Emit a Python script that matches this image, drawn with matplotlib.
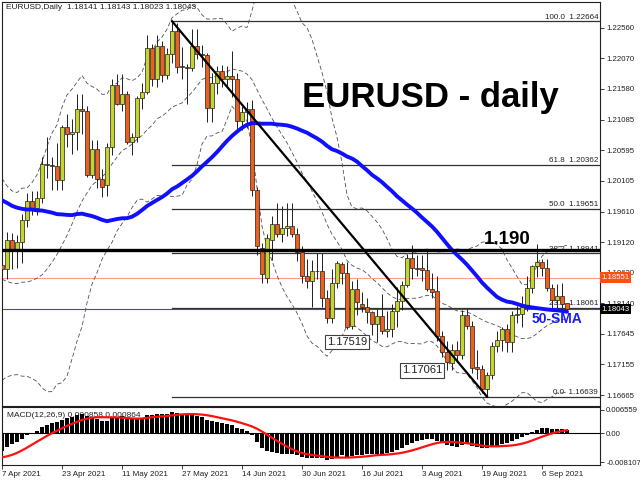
import numpy as np
import pandas as pd
import matplotlib
matplotlib.use('Agg')
import matplotlib.pyplot as plt

plt.rcParams['font.family'] = ['Liberation Sans', 'DejaVu Sans']
plt.rcParams['axes.unicode_minus'] = False

# daily closes before 7 Apr 2021, only used to warm up the indicators
pre_close = [1.2113, 1.2124, 1.2136,
             1.2061, 1.2040, 1.2036, 1.1963, 1.2049, 1.2050, 1.2119, 1.2119, 1.2133, 1.2120,
             1.2126, 1.2104, 1.2040, 1.2091, 1.2119, 1.2155, 1.2151, 1.2165, 1.2175, 1.2075,
             1.2048, 1.2089, 1.2063, 1.1964, 1.1917, 1.1847, 1.1899, 1.1928, 1.1985, 1.1951,
             1.1929, 1.1902, 1.1977, 1.1914, 1.1905, 1.1935, 1.1850, 1.1814, 1.1763, 1.1794,
             1.1778, 1.1720, 1.1730, 1.1779, 1.1763, 1.1813, 1.1875]

# visible bars, 7 Apr 2021 .. 13 Sep 2021
opens = [1.1875, 1.1868, 1.1915, 1.1898, 1.1912, 1.1947, 1.1978, 1.1966, 1.1983, 1.2037,
         1.2036, 1.2034, 1.2012, 1.2097, 1.2086, 1.2088, 1.2125, 1.2122, 1.2020, 1.2062,
         1.2013, 1.2004, 1.2065, 1.2164, 1.2133, 1.2150, 1.2073, 1.2081, 1.2143, 1.2152,
         1.2223, 1.2174, 1.2226, 1.2180, 1.2213, 1.2250, 1.2194, 1.2193, 1.2192, 1.2227,
         1.2213, 1.2212, 1.2127, 1.2167, 1.2186, 1.2173, 1.2178, 1.2174, 1.2107, 1.2120,
         1.2125, 1.1995, 1.1903, 1.1855, 1.1915, 1.1941, 1.1925, 1.1934, 1.1937, 1.1925,
         1.1896, 1.1858, 1.1849, 1.1865, 1.1866, 1.1823, 1.1790, 1.1846, 1.1877, 1.1862,
         1.1778, 1.1836, 1.1813, 1.1808, 1.1800, 1.1780, 1.1794, 1.1770, 1.1772, 1.1801,
         1.1818, 1.1843, 1.1887, 1.1870, 1.1871, 1.1867, 1.1836, 1.1833, 1.1761, 1.1736,
         1.1718, 1.1738, 1.1730, 1.1795, 1.1778, 1.1711, 1.1708, 1.1676, 1.1698, 1.1745,
         1.1755, 1.1772, 1.1751, 1.1795, 1.1797, 1.1808, 1.1838, 1.1874, 1.1880, 1.1871,
         1.1839, 1.1819, 1.1826, 1.18141]
highs = [1.1913, 1.1928, 1.1926, 1.1924, 1.1957, 1.1990, 1.1994, 1.1994, 1.2048, 1.2080,
         1.2048, 1.2071, 1.2100, 1.2117, 1.2109, 1.2150, 1.2149, 1.2131, 1.2076, 1.2076,
         1.2030, 1.2071, 1.2173, 1.2181, 1.2182, 1.2155, 1.2087, 1.2147, 1.2167, 1.2245,
         1.2230, 1.2245, 1.2234, 1.2223, 1.22664, 1.2263, 1.2225, 1.2198, 1.2254, 1.2254,
         1.2228, 1.2216, 1.2184, 1.2195, 1.2196, 1.2194, 1.2218, 1.2184, 1.2131, 1.2137,
         1.2140, 1.2000, 1.1910, 1.1925, 1.1954, 1.1974, 1.1970, 1.1975, 1.1975, 1.1935,
         1.1905, 1.1885, 1.1883, 1.1895, 1.1895, 1.1835, 1.1868, 1.1881, 1.1880, 1.1880,
         1.1850, 1.1853, 1.1832, 1.1823, 1.1802, 1.1805, 1.1829, 1.1802, 1.1812, 1.1840,
         1.1850, 1.1893, 1.1908, 1.1892, 1.1892, 1.1900, 1.1862, 1.1857, 1.1770, 1.1753,
         1.1748, 1.1753, 1.1803, 1.1805, 1.1786, 1.1739, 1.1714, 1.1703, 1.1752, 1.1770,
         1.1776, 1.1780, 1.1802, 1.1810, 1.1826, 1.1857, 1.1875, 1.1909, 1.1884, 1.1884,
         1.1844, 1.1845, 1.1846, 1.18143]
lows = [1.1855, 1.1853, 1.1869, 1.1870, 1.1878, 1.1936, 1.1955, 1.1955, 1.1975, 1.2015,
        1.1995, 1.1996, 1.1995, 1.2065, 1.2054, 1.2059, 1.2086, 1.2017, 1.2014, 1.1998,
        1.1985, 1.1986, 1.2052, 1.2132, 1.2123, 1.2070, 1.2052, 1.2073, 1.2125, 1.2150,
        1.2162, 1.2160, 1.2169, 1.2173, 1.2199, 1.2183, 1.2173, 1.2134, 1.2186, 1.2206,
        1.2193, 1.2104, 1.2104, 1.2150, 1.2160, 1.2162, 1.2144, 1.2093, 1.2092, 1.2095,
        1.1986, 1.1892, 1.1847, 1.1847, 1.1883, 1.1920, 1.1912, 1.1922, 1.1920, 1.1881,
        1.1847, 1.1838, 1.1807, 1.1853, 1.1807, 1.1782, 1.1782, 1.1838, 1.1845, 1.1772,
        1.1772, 1.1795, 1.1800, 1.1782, 1.1763, 1.17519, 1.1764, 1.1760, 1.1760, 1.1775,
        1.1803, 1.1840, 1.1853, 1.1858, 1.1849, 1.1834, 1.1822, 1.1754, 1.1728, 1.1707,
        1.17061, 1.1723, 1.1725, 1.1772, 1.1702, 1.1693, 1.1670, 1.16639, 1.1692, 1.1735,
        1.1737, 1.1736, 1.1735, 1.1782, 1.1775, 1.1802, 1.1830, 1.1856, 1.1857, 1.1834,
        1.1802, 1.1802, 1.1806, 1.18023]
closes = [1.1868, 1.1915, 1.1900, 1.1912, 1.1947, 1.1978, 1.1966, 1.1982, 1.2037, 1.2036,
          1.2034, 1.2012, 1.2097, 1.2086, 1.2088, 1.2125, 1.2122, 1.2020, 1.2062, 1.2013,
          1.2000, 1.2065, 1.2164, 1.2133, 1.2150, 1.2073, 1.2081, 1.2143, 1.2152, 1.2223,
          1.2174, 1.2226, 1.2180, 1.2213, 1.2250, 1.2193, 1.2193, 1.2192, 1.2227, 1.2213,
          1.2212, 1.2127, 1.2167, 1.2186, 1.2173, 1.2178, 1.2174, 1.2107, 1.2120, 1.2125,
          1.1995, 1.1906, 1.1860, 1.1918, 1.1941, 1.1925, 1.1934, 1.1937, 1.1925, 1.1896,
          1.1858, 1.1850, 1.1865, 1.1866, 1.1823, 1.1790, 1.1846, 1.1878, 1.1862, 1.1776,
          1.1837, 1.1815, 1.1808, 1.1800, 1.1780, 1.1794, 1.1770, 1.1772, 1.1801, 1.1818,
          1.1843, 1.1886, 1.1870, 1.1869, 1.1867, 1.1837, 1.1832, 1.1761, 1.1736, 1.1719,
          1.1738, 1.1730, 1.1795, 1.1778, 1.1710, 1.1708, 1.1676, 1.1698, 1.1745, 1.1755,
          1.1772, 1.1751, 1.1795, 1.1797, 1.1808, 1.1838, 1.1874, 1.1880, 1.1871, 1.1839,
          1.1819, 1.1826, 1.1812, 1.18043]

dates = pd.bdate_range('2021-04-07', '2021-09-13')

fib_levels = [100.0, 61.8, 50.0, 38.2, 23.6, 0.0]
fib_prices = [1.22664, 1.20362, 1.19651, 1.18941, 1.18061, 1.16639]
price_ticks = [1.22560, 1.22070, 1.21580, 1.21085, 1.20595, 1.20105, 1.19610,
               1.19120, 1.18630, 1.18140, 1.17645, 1.17155, 1.16665]
macd_ticks = [0.006559, 0.0, -0.008107]
macd_tick_labels = ['0.006559', '0.00', '-0.008107']
level_190 = 1.190
bid_line = 1.18043
ask_line = 1.18551
low_marks = [75, 90]   # bars whose lows get a price label

# indicators
s = pd.Series(pre_close + closes)
n = len(closes)
sma50 = s.rolling(50).mean().values[-n:]
mid = s.rolling(20).mean()
sd = s.rolling(20).std(ddof=0)
bb_up = (mid + 2 * sd).values[-n:]
bb_lo = (mid - 2 * sd).values[-n:]
bb_mid = mid.values[-n:]
macd = (s.ewm(span=12, adjust=False).mean() - s.ewm(span=26, adjust=False).mean())
signal = macd.rolling(9).mean().values[-n:]
macd = macd.values[-n:]

x = np.arange(n)
o = np.array(opens); h = np.array(highs); l = np.array(lows); c = np.array(closes)

fig = plt.figure(figsize=(6.4, 4.8), dpi=100)
ax = fig.add_axes([2/640, 1 - 406/480, 598/640, 404/480])
ax2 = fig.add_axes([2/640, 1 - 465/480, 598/640, 58/480])

for a in (ax, ax2):
    a.set_xlim(0, 119.6)
    for sp in a.spines.values():
        sp.set_color('#202020')
        sp.set_linewidth(0.8)
ax.set_ylim(1.16489, 1.22972)
ax2.set_ylim(-0.00895, 0.0074)

# fibonacci
top = int(np.argmax(h))
for lv, p in zip(fib_levels, fib_prices):
    ax.plot([top, 119.6], [p, p], color='#303030', lw=0.9, zorder=1)
    ax.text(0.997, p + 0.0001, f'{lv:.1f}  {p:.5f}', transform=ax.get_yaxis_transform(),
            ha='right', va='bottom', fontsize=5.8, color='#202020', zorder=1)

ax.axhline(ask_line, color='#ff9c88', lw=0.8, zorder=1)
ax.axhline(bid_line, color='#4a4aa0', lw=0.8, zorder=1)

# bollinger bands
for band in (bb_up, bb_mid, bb_lo):
    ax.plot(x, band, color='#505050', lw=0.6, ls=(0, (5, 3)), zorder=2)

# candles
up = c >= o
col = np.where(up, '#c4d42c', '#ee5f1c')
ax.vlines(x, l, h, color='#202020', lw=0.7, zorder=3)
ax.bar(x, np.maximum(np.abs(c - o), 0.00004), bottom=np.minimum(o, c), width=0.62,
       color=col, edgecolor='#202020', linewidth=0.5, zorder=4)

ax.plot(x, sma50, color='#1010ff', lw=2.8, zorder=5, solid_capstyle='round')

ax.axhline(level_190, color='black', lw=2.4, zorder=6)

bot = int(np.argmin(l))
ax.plot([top, bot], [h[top], l[bot]], color='black', lw=1.6, zorder=6)

# texts
ax.text(0.006, 1 - 2/404, 'EURUSD,Daily  1.18141 1.18143 1.18023 1.18043',
        transform=ax.transAxes, ha='left', va='top', fontsize=6, color='#202020')
ax.text(0.5017, 0.763, 'EURUSD - daily', transform=ax.transAxes, ha='left', va='center',
        fontsize=25, fontweight='bold', color='black', zorder=7)
ax.text(101, 1.1916, '1.190', ha='center', va='center', fontsize=13.5,
        fontweight='bold', color='black', zorder=7)
ax.text(111, 1.17884, '50-SMA', ha='center', va='center', fontsize=10,
        fontweight='bold', color='#1a1aff', zorder=7)
for i in low_marks:
    ax.annotate(f'{l[i]:.5f}', (i, l[i]), xytext=(-30, 0), textcoords='offset pixels',
                ha='center', va='center', fontsize=8, color='#202020', zorder=8,
                bbox=dict(boxstyle='square,pad=0.2', fc='white', ec='#404040', lw=0.8))

ax.set_xticks([])
ax.yaxis.tick_right()
ax.set_yticks(price_ticks)
ax.set_yticklabels([f'{p:.5f}' for p in price_ticks])
ax.tick_params(axis='y', length=3, width=0.6, pad=1.5, labelsize=5.6, colors='#202020')

ax.text(1.003, ask_line, f'{ask_line:.5f}', transform=ax.get_yaxis_transform(),
        ha='left', va='center', fontsize=5.6, color='white', clip_on=False, zorder=9,
        bbox=dict(boxstyle='square,pad=0.2', fc='#ff4f10', ec='none'))
ax.text(1.003, bid_line, f'{bid_line:.5f}', transform=ax.get_yaxis_transform(),
        ha='left', va='center', fontsize=5.6, color='white', clip_on=False, zorder=9,
        bbox=dict(boxstyle='square,pad=0.2', fc='black', ec='none'))

# MACD panel
ax2.text(0.008, 0.86, 'MACD(12,26,9) 0.000858 0.000864', transform=ax2.transAxes,
         ha='left', va='center', fontsize=6, color='#202020', zorder=0)
ax2.bar(x, macd, width=0.75, color='black', zorder=2)
ax2.axhline(0, color='black', lw=0.8, zorder=2)
ax2.plot(x, signal, color='#ff1010', lw=1.6, zorder=3)
ax2.yaxis.tick_right()
ax2.set_yticks(macd_ticks)
ax2.set_yticklabels(macd_tick_labels)
ax2.tick_params(axis='y', length=3, width=0.6, pad=1.5, labelsize=5.6, colors='#202020')

xt = list(range(0, n, 12))
ax2.set_xticks(xt)
ax2.set_xticklabels([f'{dates[i].day} {dates[i]:%b %Y}' for i in xt], ha='left')
ax2.tick_params(axis='x', length=3, width=0.6, pad=1, labelsize=5.8, colors='#202020')

fig.savefig('out.png', dpi=100)
